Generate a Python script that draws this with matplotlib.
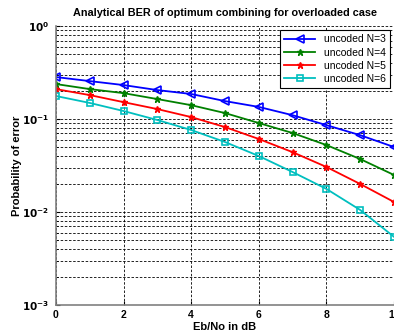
import numpy as np
import matplotlib
matplotlib.use('Agg')
import matplotlib.pyplot as plt
from matplotlib.ticker import FixedLocator, FuncFormatter, LogLocator, NullFormatter

plt.rcParams['font.family'] = ['Liberation Sans', 'DejaVu Sans']

ebno = [0, 1, 2, 3, 4, 5, 6, 7, 8, 9, 10]
ber_n3 = [0.283, 0.256, 0.232, 0.205, 0.186, 0.156, 0.135, 0.110, 0.086, 0.067, 0.050]
ber_n4 = [0.238, 0.210, 0.190, 0.164, 0.141, 0.116, 0.0906, 0.0707, 0.0525, 0.0371, 0.025]
ber_n5 = [0.210, 0.181, 0.152, 0.128, 0.105, 0.082, 0.061, 0.044, 0.0305, 0.020, 0.0128]
ber_n6 = [0.177, 0.149, 0.122, 0.0976, 0.0762, 0.0566, 0.040, 0.0269, 0.0177, 0.0105, 0.0054]
labels = ['uncoded N=3', 'uncoded N=4', 'uncoded N=5', 'uncoded N=6']

fig = plt.figure(figsize=(3.94, 3.35), dpi=100)
ax = fig.add_axes([0.142, 0.09, 0.858, 0.832])

ax.semilogy(ebno, ber_n3, '-<', color='blue', mfc='none', ms=5.5, lw=1.3, mew=1.2, label=labels[0])
ax.semilogy(ebno, ber_n4, '-*', color='green', ms=4.5, lw=1.3, label=labels[1])
ax.semilogy(ebno, ber_n5, '-*', color='red', ms=4.5, lw=1.3, label=labels[2])
ax.semilogy(ebno, ber_n6, '-s', color='#00bfbf', mfc='none', ms=5, lw=1.3, mew=1.2, label=labels[3])

ax.set_xlim(0, 10)
ax.set_ylim(1e-3, 1)
ax.set_xticks([0, 2, 4, 6, 8, 10])
ax.set_xticklabels(['0', '2', '4', '6', '8', '10'])
ax.yaxis.set_major_locator(FixedLocator([1e-3, 1e-2, 1e-1, 1]))
ax.yaxis.set_major_formatter(FuncFormatter(lambda v, p: r'$\mathbf{10^{%d}}$' % round(np.log10(v))))
ax.yaxis.set_minor_locator(LogLocator(base=10, subs=np.arange(2, 10)))
ax.yaxis.set_minor_formatter(NullFormatter())

ax.grid(True, which='major', ls=(0, (3, 2)), color='black', lw=0.6)
ax.grid(True, which='minor', axis='y', ls=(0, (3, 2)), color='black', lw=0.6)

for s in ['top', 'right']:
    ax.spines[s].set_visible(False)
for s in ['left', 'bottom']:
    ax.spines[s].set_color('#808080')
    ax.spines[s].set_linewidth(1.2)
ax.tick_params(which='both', direction='in', length=3, labelsize=7.5)
ax.tick_params(which='minor', length=1.5)
ax.tick_params(axis='y', pad=5)
for t in ax.get_xticklabels():
    t.set_fontweight('bold')

ax.set_title('Analytical BER of optimum combining for overloaded case', fontsize=7.8, fontweight='bold', pad=7)
ax.set_xlabel('Eb/No in dB', fontsize=8, fontweight='bold', labelpad=2)
ax.set_ylabel('Probability of error', fontsize=8, fontweight='bold')
ax.yaxis.set_label_coords(-0.1, 0.5)

leg = ax.legend(loc='upper right', fontsize=7.5, fancybox=False, framealpha=1,
                edgecolor='black', borderaxespad=0.4, handlelength=3.0, labelspacing=0.3)
leg.get_frame().set_linewidth(0.8)

fig.savefig('out.png', dpi=100)
